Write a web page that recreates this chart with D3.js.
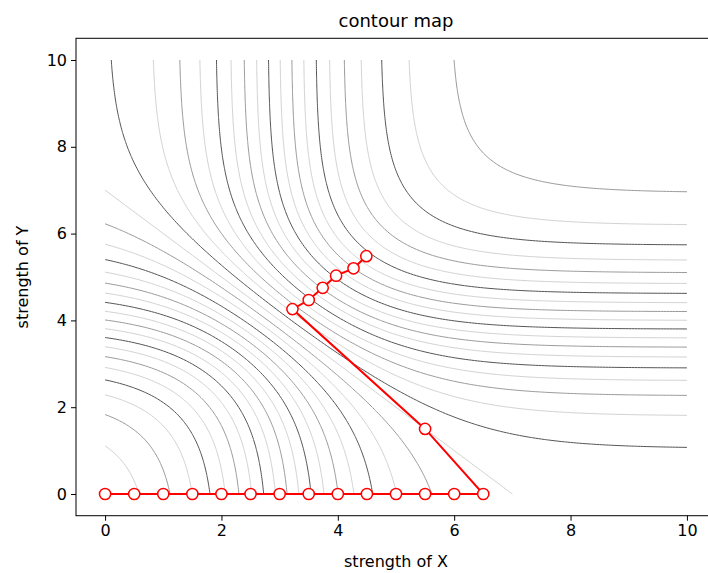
<!DOCTYPE html>
<html>
<head>
    <title>contour map</title>
    <script src="https://d3js.org/d3.v7.min.js"></script>
    <style>
        body { margin: 0; background: #fff; }
        text { font-family: "DejaVu Sans", sans-serif; fill: #000; }
    </style>
</head>
<body>
    <div id="chart"></div>

    <script>
        // contour levels of the surface (one line per level)
        const levels = [-1.8, -1.7, -1.6, -1.5, -1.4, -1.3, -1.2, -1.1, -1.0, -0.9,
                        -0.8, -0.7, -0.6, -0.5, -0.4, -0.3, -0.2, -0.1, 0.0, 0.1,
                        0.2, 0.3, 0.4, 0.5, 0.6, 0.7, 0.8, 0.9, 1.0, 1.1,
                        1.2, 1.3, 1.4, 1.5, 1.6, 1.7, 1.8, 1.9];
        const centreX = 3;
        const centreY = 4;
        const spread = 2;
        const gridMax = 10;

        // red search path
        const pathX = [0, 0.5, 1, 1.5, 2, 2.5, 3, 3.5, 4, 4.5, 5, 5.5, 6, 6.5,
                       5.5, 3.22, 3.5, 3.74, 3.97, 4.27, 4.49];
        const pathY = [0, 0, 0, 0, 0, 0, 0, 0, 0, 0, 0, 0, 0, 0,
                       1.5, 4.26, 4.47, 4.75, 5.03, 5.2, 5.48];

        const xTicks = [0, 2, 4, 6, 8, 10];
        const yTicks = [0, 2, 4, 6, 8, 10];

        const width = 708, height = 573;
        const axLeft = 76, axRight = 716, axTop = 38.3, axBottom = 515.7;

        const svg = d3.select("#chart").append("svg")
            .attr("width", width)
            .attr("height", height);

        const x = d3.scaleLinear().domain([-0.5, 10.5]).range([axLeft, axRight]);
        const y = d3.scaleLinear().domain([-0.5, 10.5]).range([axBottom, axTop]);

        // sample the surface on a grid and let d3.contours trace it
        const n = 201;
        const step = gridMax / (n - 1);
        const values = new Array(n * n);
        for (let j = 0; j < n; j++) {
            for (let i = 0; i < n; i++) {
                values[j * n + i] = Math.tanh((i * step - centreX) / spread)
                                  + Math.tanh((j * step - centreY) / spread);
            }
        }
        const contours = d3.contours().size([n, n]).thresholds(levels)(values);

        // d3 closes rings along the grid border; keep only the open pieces inside
        function openRuns(ring) {
            const inside = p => p[0] > 0 && p[0] < n && p[1] > 0 && p[1] < n;
            const pts = ring.slice(0, -1);
            const k = pts.findIndex(p => !inside(p));
            if (k < 0) return [ring];
            const rot = pts.slice(k).concat(pts.slice(0, k));
            const runs = [];
            let cur = [];
            rot.forEach(p => {
                if (inside(p)) cur.push(p);
                else { if (cur.length > 1) runs.push(cur); cur = []; }
            });
            if (cur.length > 1) runs.push(cur);
            return runs;
        }

        function shade(level) {
            const k = ((Math.round(level * 10) % 4) + 4) % 4;
            if (k === 1) return "#555555";
            if (k === 3) return "#9a9a9a";
            return "#d2d2d2";
        }

        const line = d3.line()
            .x(p => x((p[0] - 0.5) * step))
            .y(p => y((p[1] - 0.5) * step));

        const plot = svg.append("g");

        contours.forEach(c => {
            const runs = [];
            c.coordinates.forEach(poly => poly.forEach(ring => runs.push(...openRuns(ring))));
            plot.append("path")
                .attr("d", runs.map(r => line(r)).join(""))
                .attr("fill", "none")
                .attr("stroke", shade(c.value))
                .attr("stroke-width", 1);
        });

        // path
        const pts = pathX.map((v, i) => [v, pathY[i]]);
        plot.append("path")
            .attr("d", d3.line().x(d => x(d[0])).y(d => y(d[1]))(pts))
            .attr("fill", "none")
            .attr("stroke", "#ff0000")
            .attr("stroke-width", 2);
        plot.selectAll(".dot")
            .data(pts)
            .enter().append("circle")
            .attr("class", "dot")
            .attr("cx", d => x(d[0]))
            .attr("cy", d => y(d[1]))
            .attr("r", 5.6)
            .attr("fill", "#fff")
            .attr("stroke", "#ff0000")
            .attr("stroke-width", 1.5);

        // frame
        svg.append("rect")
            .attr("x", axLeft).attr("y", axTop)
            .attr("width", axRight - axLeft).attr("height", axBottom - axTop)
            .attr("fill", "none").attr("stroke", "#000").attr("stroke-width", 1);

        const xAxis = svg.append("g")
            .attr("transform", `translate(0,${axBottom})`)
            .call(d3.axisBottom(x).tickValues(xTicks).tickSize(5).tickPadding(4));
        const yAxis = svg.append("g")
            .attr("transform", `translate(${axLeft},0)`)
            .call(d3.axisLeft(y).tickValues(yTicks).tickSize(5).tickPadding(4));
        [xAxis, yAxis].forEach(a => {
            a.select(".domain").remove();
            a.selectAll("text").style("font-size", "16px").style("font-family", "DejaVu Sans");
        });

        svg.append("text")
            .attr("x", (axLeft + axRight) / 2).attr("y", 27)
            .attr("text-anchor", "middle")
            .style("font-size", "18px")
            .text("contour map");

        svg.append("text")
            .attr("x", (axLeft + axRight) / 2).attr("y", 567)
            .attr("text-anchor", "middle")
            .style("font-size", "16px")
            .text("strength of X");

        svg.append("text")
            .attr("transform", `translate(28,${(axTop + axBottom) / 2}) rotate(-90)`)
            .attr("text-anchor", "middle")
            .style("font-size", "16px")
            .text("strength of Y");
    </script>
</body>
</html>
